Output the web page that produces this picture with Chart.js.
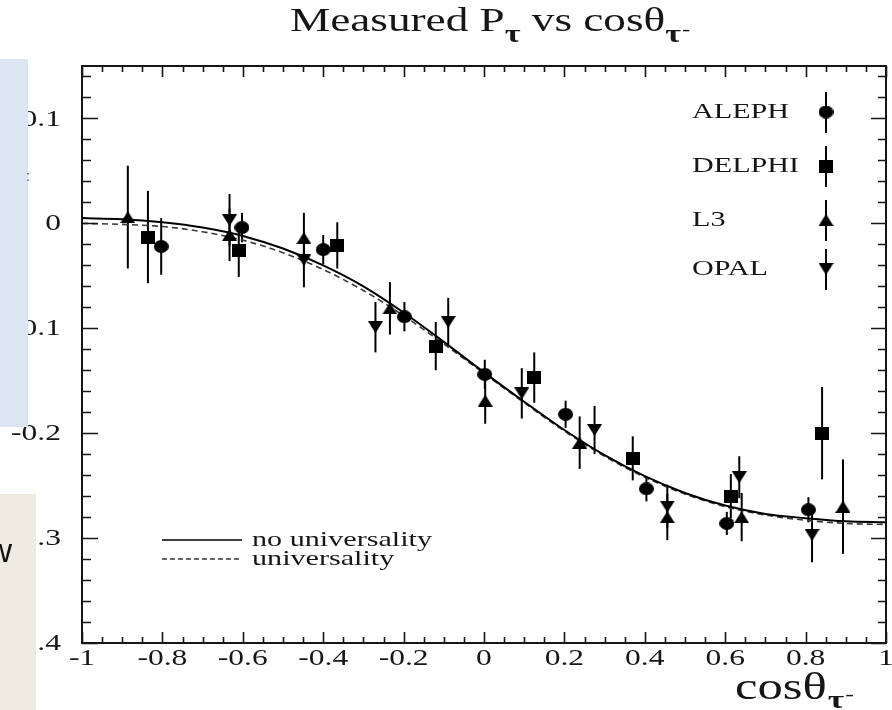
<!DOCTYPE html>
<html>
<head>
<meta charset="utf-8">
<title>Measured P_tau vs cos theta</title>
<script src="https://cdn.jsdelivr.net/npm/chart.js@4.4.1/dist/chart.umd.min.js"></script>
<style>
  html, body { margin: 0; padding: 0; background: #fff; overflow: hidden; }
  #wrap { position: relative; width: 892px; height: 710px; overflow: hidden; }
  #chart { display: block; }
</style>
</head>
<body>
<div id="wrap"><canvas id="chart" width="894" height="710"></canvas></div>
<script>
// --- data ---
const alephX = [-0.803, -0.602, -0.400, -0.198, 0.002, 0.203, 0.404, 0.604, 0.807];
const alephY = [-0.022, -0.004, -0.025, -0.089, -0.144, -0.182, -0.253, -0.286, -0.273];
const alephErr = [0.027, 0.014, 0.014, 0.014, 0.014, 0.013, 0.012, 0.011, 0.012];

const delphiX = [-0.836, -0.610, -0.365, -0.120, 0.125, 0.370, 0.614, 0.841];
const delphiY = [-0.013, -0.026, -0.021, -0.117, -0.147, -0.224, -0.260, -0.200];
const delphiErr = [0.044, 0.025, 0.022, 0.023, 0.024, 0.021, 0.021, 0.044];

const l3X = [-0.886, -0.633, -0.448, -0.234, 0.003, 0.238, 0.456, 0.641, 0.893];
const l3Y = [0.006, -0.011, -0.014, -0.081, -0.169, -0.209, -0.280, -0.280, -0.270];
const l3Err = [0.049, 0.025, 0.024, 0.025, 0.022, 0.025, 0.022, 0.023, 0.045];

const opalX = [-0.633, -0.448, -0.270, -0.089, 0.094, 0.275, 0.456, 0.635, 0.816];
const opalY = [0.003, -0.035, -0.099, -0.094, -0.162, -0.197, -0.270, -0.242, -0.297];
const opalErr = [0.025, 0.026, 0.024, 0.023, 0.024, 0.023, 0.021, 0.020, 0.026];

const curveX = [-1, -0.9, -0.8, -0.7, -0.6, -0.5, -0.4, -0.3, -0.2, -0.1, 0,
                0.1, 0.2, 0.3, 0.4, 0.5, 0.6, 0.7, 0.8, 0.9, 1];
const noUnivY = [0.005, 0.004, 0.001, -0.004, -0.012, -0.024, -0.040, -0.060, -0.085, -0.113, -0.142,
                 -0.170, -0.197, -0.221, -0.241, -0.257, -0.269, -0.277, -0.281, -0.284, -0.285];
const univY = [0.000, -0.001, -0.003, -0.008, -0.016, -0.028, -0.044, -0.064, -0.088, -0.115, -0.143,
               -0.171, -0.198, -0.222, -0.242, -0.258, -0.270, -0.278, -0.283, -0.286, -0.287];

const xTickValues = [-1, -0.8, -0.6, -0.4, -0.2, 0, 0.2, 0.4, 0.6, 0.8, 1];
const xTickLabels = ["-1", "-0.8", "-0.6", "-0.4", "-0.2", "0", "0.2", "0.4", "0.6", "0.8", "1"];
const yTickValues = [0.1, 0, -0.1, -0.2, -0.3, -0.4];
const yTickLabels = ["0.1", "0", "-0.1", "-0.2", "-0.3", "-0.4"];

const experiments = ["ALEPH", "DELPHI", "L3", "OPAL"];
const curveNames = ["no universality", "universality"];

// --- drawing helpers ---
const SX = 1.37; // the reference is stretched sideways
const SERIF = '"Liberation Serif", "Times New Roman", serif';
const INK = "#161616";

function toPoints(xs, ys) {
  return xs.map((x, i) => ({ x: x, y: ys[i] }));
}

function makeMarker(kind, w, h) {
  const c = document.createElement("canvas");
  c.width = w;
  c.height = h;
  const g = c.getContext("2d");
  g.fillStyle = "#000";
  g.beginPath();
  if (kind === "circle") g.ellipse(w / 2, h / 2, w / 2, h / 2, 0, 0, Math.PI * 2);
  else if (kind === "square") g.rect(0, 0, w, h);
  else if (kind === "up") { g.moveTo(w / 2, 0); g.lineTo(w, h); g.lineTo(0, h); }
  else { g.moveTo(0, 0); g.lineTo(w, 0); g.lineTo(w / 2, h); }
  g.closePath();
  g.fill();
  return c;
}

const markers = [
  makeMarker("circle", 15, 13),
  makeMarker("square", 14, 13),
  makeMarker("up", 15, 12),
  makeMarker("down", 15, 12),
];

// draw text stretched horizontally; returns the drawn width
function sText(ctx, str, x, y, size, opts) {
  opts = opts || {};
  ctx.save();
  ctx.font = (opts.weight || "normal") + " " + size + "px " + (opts.family || SERIF);
  ctx.fillStyle = opts.color || INK;
  ctx.textBaseline = opts.baseline || "alphabetic";
  const w = ctx.measureText(str).width * SX;
  let x0 = x;
  if (opts.align === "right") x0 = x - w;
  if (opts.align === "center") x0 = x - w / 2;
  ctx.translate(x0, y);
  ctx.scale(SX, 1);
  ctx.textAlign = "left";
  ctx.fillText(str, 0, 0);
  ctx.restore();
  return w;
}

const errorBars = {
  id: "errorBars",
  beforeDatasetsDraw(chart) {
    const ctx = chart.ctx;
    const xs = chart.scales.x, ys = chart.scales.y;
    ctx.save();
    ctx.strokeStyle = "#000";
    ctx.lineWidth = 2;
    chart.data.datasets.forEach((ds) => {
      if (!ds.errors) return;
      ds.data.forEach((p, i) => {
        const px = xs.getPixelForValue(p.x);
        ctx.beginPath();
        ctx.moveTo(px, ys.getPixelForValue(p.y + ds.errors[i]));
        ctx.lineTo(px, ys.getPixelForValue(p.y - ds.errors[i]));
        ctx.stroke();
      });
    });
    ctx.restore();
  },
};

const frame = {
  id: "frame",
  afterDatasetsDraw(chart) {
    const ctx = chart.ctx;
    const a = chart.chartArea;
    const xs = chart.scales.x, ys = chart.scales.y;
    ctx.save();
    ctx.strokeStyle = INK;
    ctx.lineWidth = 2;
    ctx.strokeRect(a.left, a.top, a.right - a.left, a.bottom - a.top);

    ctx.lineWidth = 1.6;
    ctx.beginPath();
    // x ticks every 0.05, major every 0.2
    for (let i = -20; i <= 20; i++) {
      const px = Math.round(xs.getPixelForValue(i / 20)) + 0.5;
      const len = i % 4 === 0 ? 11 : 6;
      ctx.moveTo(px, a.bottom); ctx.lineTo(px, a.bottom - len);
      ctx.moveTo(px, a.top); ctx.lineTo(px, a.top + len);
    }
    // y ticks every 0.02, major every 0.1
    for (let i = -20; i <= 7; i++) {
      const py = Math.round(ys.getPixelForValue(i / 50)) + 0.5;
      const major = i % 5 === 0;
      ctx.moveTo(a.left, py); ctx.lineTo(a.left + (major ? 16 : 9), py);
      ctx.moveTo(a.right, py); ctx.lineTo(a.right - (major ? 15 : 8), py);
    }
    ctx.stroke();
    ctx.restore();

    // tick labels
    xTickValues.forEach((v, i) => {
      sText(ctx, xTickLabels[i], xs.getPixelForValue(v), 659, 23, { align: "center", baseline: "middle" });
    });
    yTickValues.forEach((v, i) => {
      sText(ctx, yTickLabels[i], 61, ys.getPixelForValue(v) + 1, 23, { align: "right", baseline: "middle" });
    });

    // title
    let tx = 290;
    tx += sText(ctx, "Measured P", tx, 31, 33);
    tx += sText(ctx, "τ", tx, 42, 25, { weight: "bold" });
    tx += sText(ctx, " vs cosθ", tx, 31, 33);
    tx += sText(ctx, "τ", tx, 42, 25, { weight: "bold" });
    sText(ctx, "-", tx + 1, 35, 18);

    // x axis title
    let ax = 735;
    ax += sText(ctx, "cosθ", ax, 699, 37);
    ax += sText(ctx, "τ", ax + 1, 708, 26, { weight: "bold" });
    sText(ctx, "-", ax + 2, 700, 19);

    // experiment legend
    const legY = [112, 166, 220, 269];
    experiments.forEach((name, i) => {
      sText(ctx, name, 692, legY[i], 22, { baseline: "middle" });
      ctx.save();
      ctx.strokeStyle = "#000";
      ctx.lineWidth = 2;
      ctx.beginPath();
      ctx.moveTo(826, legY[i] - 20);
      ctx.lineTo(826, legY[i] + 21);
      ctx.stroke();
      const m = markers[i];
      ctx.drawImage(m, 826 - m.width / 2, legY[i] - m.height / 2);
      ctx.restore();
    });

    // line legend
    const lineY = [540, 559];
    curveNames.forEach((name, i) => {
      ctx.save();
      ctx.strokeStyle = i === 0 ? "#000" : "#333";
      ctx.lineWidth = i === 0 ? 1.6 : 1.4;
      ctx.setLineDash(i === 0 ? [] : [5, 3]);
      ctx.beginPath();
      ctx.moveTo(162, lineY[i]);
      ctx.lineTo(242, lineY[i]);
      ctx.stroke();
      ctx.restore();
      sText(ctx, name, 252, lineY[i] + 6, 22);
    });
  },
};

// slide boxes that sit over the left edge of the figure
const slideBoxes = {
  id: "slideBoxes",
  afterDraw(chart) {
    const ctx = chart.ctx;
    ctx.save();
    ctx.fillStyle = "#dce6f2";
    ctx.fillRect(0, 59, 28, 368);
    ctx.fillStyle = "#eeece1";
    ctx.fillRect(0, 494, 36, 216);
    ctx.restore();
    ctx.save();
    ctx.beginPath();
    ctx.rect(0, 494, 36, 216);
    ctx.clip();
    ctx.font = '34px "Liberation Sans", Arial, sans-serif';
    ctx.fillStyle = "#111";
    ctx.textAlign = "right";
    ctx.fillText("w", 12, 562);
    ctx.restore();
    ctx.save();
    ctx.font = '15px "Liberation Sans", Arial, sans-serif';
    ctx.fillStyle = "#555";
    ctx.fillText(":", 26, 181);
    ctx.restore();
  },
};

const expData = [
  [alephX, alephY, alephErr],
  [delphiX, delphiY, delphiErr],
  [l3X, l3Y, l3Err],
  [opalX, opalY, opalErr],
];

const datasets = experiments.map((name, i) => ({
  label: name,
  data: toPoints(expData[i][0], expData[i][1]),
  errors: expData[i][2],
  pointStyle: markers[i],
  pointRadius: 7,
  backgroundColor: "#000",
  borderColor: "#000",
  showLine: false,
  order: 1,
}));

datasets.push({
  label: curveNames[0],
  data: toPoints(curveX, noUnivY),
  showLine: true,
  pointRadius: 0,
  borderColor: "#000",
  borderWidth: 2,
  cubicInterpolationMode: "monotone",
  order: 5,
});
datasets.push({
  label: curveNames[1],
  data: toPoints(curveX, univY),
  showLine: true,
  pointRadius: 0,
  borderColor: "#3a3a3a",
  borderWidth: 1.6,
  borderDash: [6, 4],
  cubicInterpolationMode: "monotone",
  order: 6,
});

new Chart(document.getElementById("chart"), {
  type: "scatter",
  data: { datasets: datasets },
  options: {
    responsive: false,
    animation: false,
    events: [],
    layout: { padding: { left: 82, top: 66, right: 1, bottom: 67 } },
    scales: {
      x: { type: "linear", min: -1, max: 1, display: false },
      y: { type: "linear", min: -0.4, max: 0.15, display: false },
    },
    plugins: {
      legend: { display: false },
      tooltip: { enabled: false },
      title: { display: false },
    },
  },
  plugins: [errorBars, frame, slideBoxes],
});
</script>
</body>
</html>
